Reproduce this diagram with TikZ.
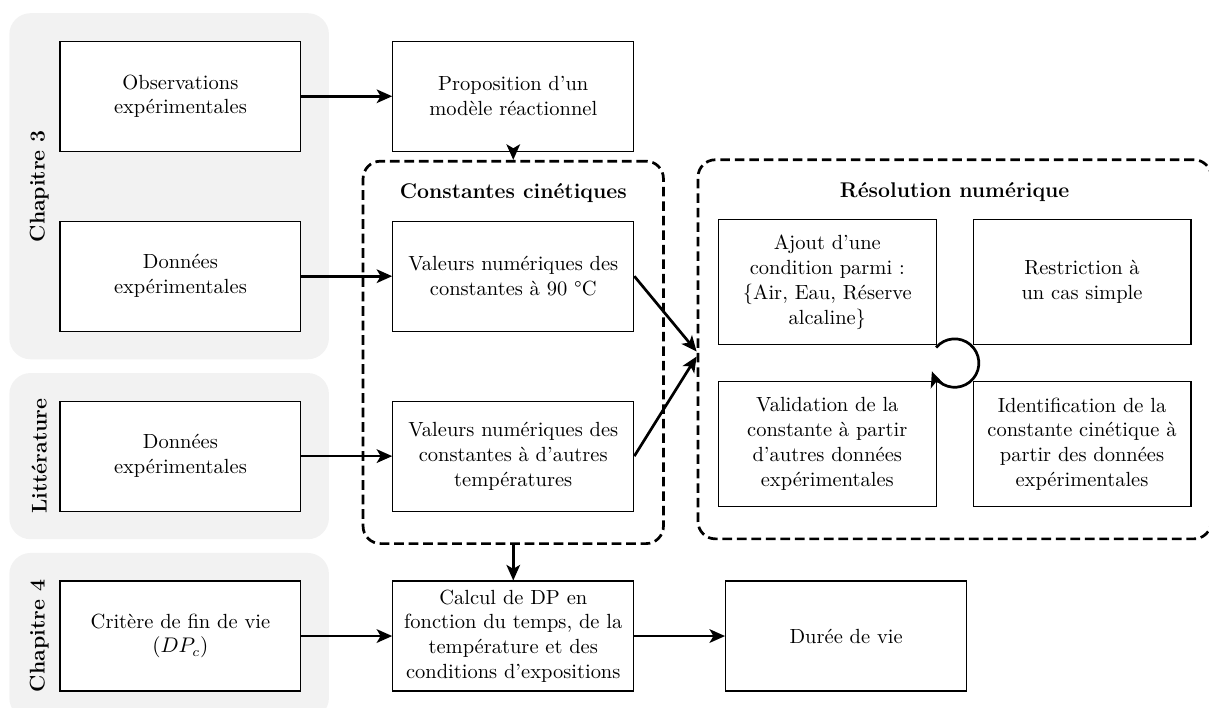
\documentclass[tikz,border=0pt]{standalone}
\usetikzlibrary{positioning, arrows.meta, fit, backgrounds, calc}
\tikzset{
  bblock/.style  = {draw, line width=0.6pt, minimum width=4.38cm, minimum height=2cm, align=center, fill=white, font=\fontsize{10.6pt}{12.8pt}\selectfont},
  rblock/.style  = {draw, line width=0.6pt, minimum width=3.96cm, minimum height=2.27cm, align=center, fill=white, font=\fontsize{10.6pt}{12.8pt}\selectfont},
  group/.style   = {draw, line width=1.4pt, dash pattern=on 5pt off 2.5pt, rounded corners=9pt},
  chapbg/.style  = {fill=gray!10, rounded corners=11pt, inner sep=0.5cm},
  chaplbl/.style = {rotate=90, font=\fontsize{11pt}{13pt}\selectfont\bfseries},
  gtitle/.style  = {font=\fontsize{11pt}{13pt}\selectfont\bfseries},
  arrow/.style   = {-{Stealth[length=8pt, width=7pt, inset=2pt]}, line width=1.4pt}
}

\begin{document}
\begin{tikzpicture}[node distance=1.25cm and 1.65cm]
  \useasboundingbox (0,0) rectangle (21.98,-12.87);

  \node[bblock] (obs) at (3.28,-1.75) {Observations\\expérimentales};
  \node[bblock, right=of obs] (prop) {Proposition d’un\\modèle réactionnel};
  \node[bblock, below=of obs] (don1) {Données\\expérimentales};
  \node[bblock, below=of don1] (don2) {Données\\expérimentales};
  \node[bblock, below=of don2] (crit) {Critère de fin de vie\\$(DP_c)$};
  \node[bblock, below=of prop] (v90) {Valeurs numériques des\\constantes à 90 °C};
  \node[bblock, below=of v90] (vaut) {Valeurs numériques des\\constantes à d’autres\\températures};
  \node[bblock, below=of vaut] (calc) {Calcul de DP en\\fonction du temps, de la\\température et des\\conditions d’expositions};
  \node[bblock, right=of calc] (duree) {Durée de vie};

  \node[rblock] (ajout) at (15.04,-5.13) {Ajout d’une\\condition parmi :\\\{Air, Eau, Réserve\\alcaline\}};
  \node[rblock, right=0.65cm of ajout] (restr) {Restriction à\\un cas simple};
  \node[rblock, below=0.65cm of ajout] (valid) {Validation de la\\constante à partir\\d’autres données\\expérimentales};
  \node[rblock, right=0.65cm of valid] (ident) {Identification de la\\constante cinétique à\\partir des données\\expérimentales};

  \coordinate (ctop) at ([yshift=0.5cm]v90.north);
  \coordinate (rtop) at ([yshift=0.5cm]ajout.north);
  \node[group, fit=(ctop)(v90)(vaut), inner xsep=0.53cm, inner ysep=0.58cm] (cst) {};
  \node[group, fit=(rtop)(ajout)(ident), inner xsep=0.36cm, inner ysep=0.58cm] (res) {};
  \node[gtitle] (cstt) at (ctop -| cst) {Constantes cinétiques};
  \node[gtitle] (rest) at (rtop -| res) {Résolution numérique};

  \coordinate (c3) at ([xshift=-0.41cm]obs.west);
  \coordinate (cl) at ([xshift=-0.41cm]don2.west);
  \coordinate (c4) at ([xshift=-0.41cm]crit.west);
  \begin{scope}[on background layer]
    \node[chapbg, fit=(c3)(obs)(don1)] (ch3) {};
    \node[chapbg, fit=(cl)(don2)] (chl) {};
    \node[chapbg, fit=(c4)(crit)] (ch4) {};
  \end{scope}
  \node[chaplbl] at ([xshift=0.55cm]ch3.west) {Chapitre 3};
  \node[chaplbl] at ([xshift=0.55cm]chl.west) {Littérature};
  \node[chaplbl] at ([xshift=0.55cm]ch4.west) {Chapitre 4};

  \draw[arrow] (obs) -- (prop);
  \draw[arrow] (don1) -- (v90);
  \draw[arrow] (don2) -- (vaut);
  \draw[arrow] (crit) -- (calc);
  \draw[arrow] (calc) -- (duree);
  \draw[arrow] (prop.south) -- (cst.north);
  \draw[arrow] (cst.south) -- (calc.north);
  \draw[arrow] (v90.east) -- ([yshift=-0.04cm]res.west);
  \draw[arrow] (vaut.east) -- ([yshift=-0.13cm]res.west);

  \coordinate (cyc) at ($(ajout.south east)!0.5!(ident.north west)$);
  \draw[arrow] ([shift={(140:0.44)}]cyc) arc[start angle=140, end angle=-160, radius=0.44];
\end{tikzpicture}
\end{document}
